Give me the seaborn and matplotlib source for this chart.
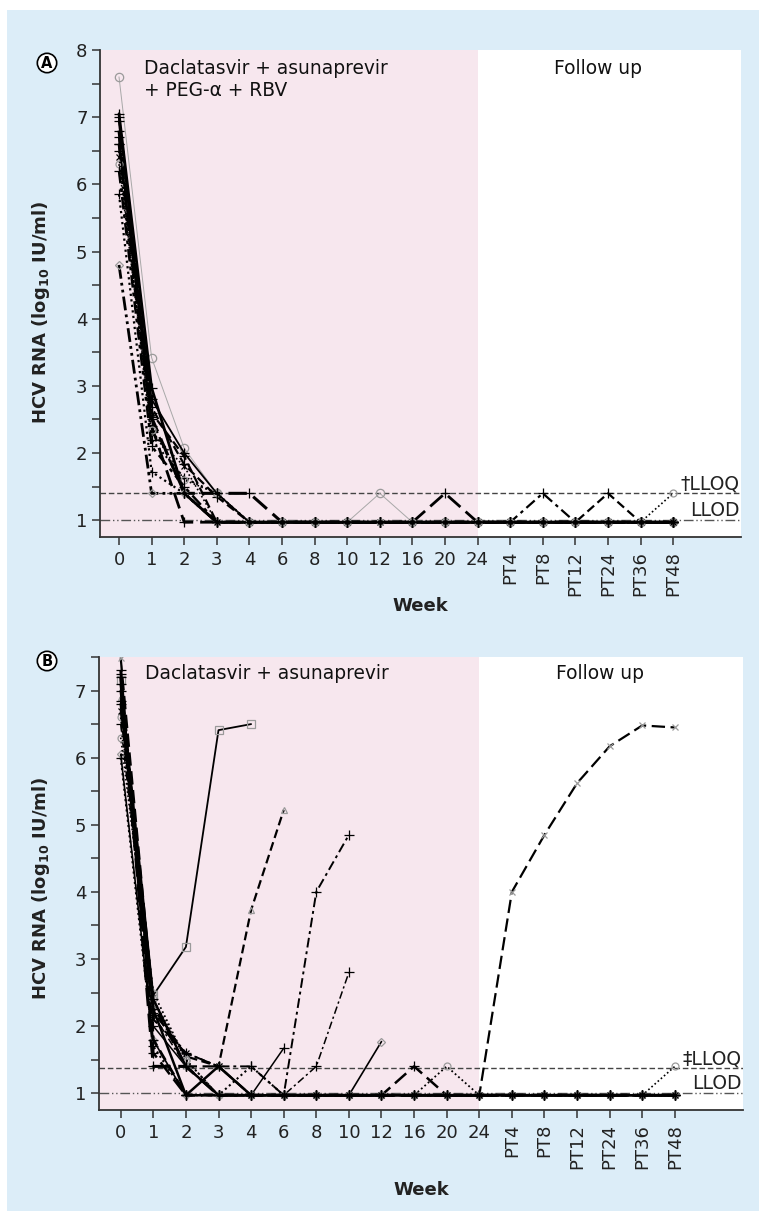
import numpy as np
import matplotlib
matplotlib.use("Agg")
import matplotlib.pyplot as plt
import matplotlib.transforms as mtransforms
from matplotlib.patches import Rectangle
import seaborn as sns

# ---------------- data ----------------
weeks = ['0', '1', '2', '3', '4', '6', '8', '10', '12', '16', '20', '24',
         'PT4', 'PT8', 'PT12', 'PT24', 'PT36', 'PT48']
lloq_a = 1.40
lloq_b = 1.38
llod = 1.0

# Panel A: daclatasvir + asunaprevir + PEG-alfa + RBV (log10 IU/ml per visit)
a01 = [7.6, 3.42, 2.07, 1.4, 0.97, 0.97, 0.97, 0.97, 1.4, 0.97, 0.97, 0.97, 0.97, 0.97, 0.97, 0.97, 0.97, 0.97]
a02 = [7.05, 2.97, 1.4, 0.97, 0.97, 0.97, 0.97, 0.97, 0.97, 0.97, 0.97, 0.97, 0.97, 0.97, 0.97, 0.97, 0.97, 0.97]
a03 = [6.95, 2.68, 1.83, 1.35, 0.97, 0.97, 0.97, 0.97, 0.97, 0.97, 0.97, 0.97, 0.97, 0.97, 0.97, 0.97, 0.97, 0.97]
a04 = [6.8, 2.53, 1.4, 1.4, 1.4, 0.97, 0.97, 0.97, 0.97, 0.97, 0.97, 0.97, 0.97, 0.97, 0.97, 0.97, 0.97, 0.97]
a05 = [6.6, 2.4, 0.97, 0.97, 0.97, 0.97, 0.97, 0.97, 0.97, 0.97, 1.4, 0.97, 0.97, 0.97, 0.97, 0.97, 0.97, 0.97]
a06 = [4.8, 1.4, 1.4, 0.97, 0.97, 0.97, 0.97, 0.97, 0.97, 0.97, 0.97, 0.97, 0.97, 0.97, 0.97, 0.97, 0.97, 0.97]
a07 = [5.85, 1.72, 1.4, 0.97, 0.97, 0.97, 0.97, 0.97, 0.97, 0.97, 0.97, 0.97, 0.97, 0.97, 0.97, 0.97, 0.97, 0.97]
a08 = [6.5, 2.2, 1.63, 1.4, 0.97, 0.97, 0.97, 0.97, 0.97, 0.97, 0.97, 0.97, 0.97, 0.97, 0.97, 0.97, 0.97, 0.97]
a09 = [6.4, 2.3, 1.8, 0.97, 0.97, 0.97, 0.97, 0.97, 0.97, 0.97, 0.97, 0.97, 0.97, 0.97, 0.97, 0.97, 0.97, 0.97]
a10 = [6.7, 2.5, 1.4, 0.97, 0.97, 0.97, 0.97, 0.97, 0.97, 0.97, 0.97, 0.97, 0.97, 1.4, 0.97, 0.97, 0.97, 0.97]
a11 = [7.0, 2.6, 1.95, 0.97, 0.97, 0.97, 0.97, 0.97, 0.97, 0.97, 0.97, 0.97, 0.97, 0.97, 0.97, 1.4, 0.97, 0.97]
a12 = [6.3, 2.35, 1.6, 1.4, 0.97, 0.97, 0.97, 0.97, 0.97, 0.97, 0.97, 0.97, 0.97, 0.97, 0.97, 0.97, 0.97, 1.4]
a13 = [6.6, 2.8, 2.0, 1.4, 0.97, 0.97, 0.97, 0.97, 0.97, 0.97, 0.97, 0.97, 0.97, 0.97, 0.97, 0.97, 0.97, 0.97]
a14 = [6.2, 2.1, 1.5, 0.97, 0.97, 0.97, 0.97, 0.97, 0.97, 0.97, 0.97, 0.97, 0.97, 0.97, 0.97, 0.97, 0.97, 0.97]

# Panel B: daclatasvir + asunaprevir
b01 = [7.15, 2.46, 3.18, 6.41, 6.5]
b02 = [6.9, 2.3, 1.55, 1.4, 3.73, 5.22]
b03 = [7.25, 2.2, 1.6, 1.4, 1.4, 0.97, 4.0, 4.85]
b04 = [6.85, 2.0, 1.4, 0.97, 0.97, 1.67]
b05 = [6.5, 2.17, 1.4, 0.97, 0.97, 0.97, 1.4, 2.8]
b06 = [6.05, 1.79, 0.97, 0.97, 0.97, 0.97, 0.97, 0.97, 1.77]
b07 = [7.1, 1.6, 0.97, 0.97, 0.97, 0.97, 0.97, 0.97, 0.97, 1.4, 0.97, 0.97, 0.97, 0.97, 0.97, 0.97, 0.97, 0.97]
b08 = [6.6, 2.5, 1.5, 0.97, 0.97, 0.97, 0.97, 0.97, 0.97, 0.97, 1.4, 0.97, 0.97, 0.97, 0.97, 0.97, 0.97, 0.97]
b09 = [7.48, 2.3, 1.4, 1.4, 0.97, 0.97, 0.97, 0.97, 0.97, 0.97, 0.97, 0.97, 4.0, 4.85, 5.62, 6.17, 6.48, 6.45]
b10 = [6.3, 2.4, 1.5, 0.97, 0.97, 0.97, 0.97, 0.97, 0.97, 0.97, 0.97, 0.97, 0.97, 0.97, 0.97, 0.97, 0.97, 1.4]
b11 = [7.2, 1.4, 1.4, 0.97, 0.97, 0.97, 0.97, 0.97, 0.97, 0.97, 0.97, 0.97, 0.97, 0.97, 0.97, 0.97, 0.97, 0.97]
b12 = [6.8, 2.4, 1.4, 0.97, 0.97, 0.97, 0.97, 0.97, 0.97, 0.97, 0.97, 0.97, 0.97, 0.97, 0.97, 0.97, 0.97, 0.97]
b13 = [7.0, 2.25, 0.97, 1.4, 0.97, 0.97, 0.97, 0.97, 0.97, 0.97, 0.97, 0.97, 0.97, 0.97, 0.97, 0.97, 0.97, 0.97]
b14 = [7.3, 1.8, 0.97, 0.97, 0.97, 0.97, 0.97, 0.97, 0.97, 0.97, 0.97, 0.97, 0.97, 0.97, 0.97, 0.97, 0.97, 0.97]
b15 = [6.0, 1.7, 0.97, 0.97, 1.4, 0.97, 0.97, 0.97, 0.97, 0.97, 0.97, 0.97, 0.97, 0.97, 0.97, 0.97, 0.97, 0.97]
b16 = [6.7, 2.1, 1.6, 1.4, 0.97, 0.97, 0.97, 0.97, 0.97, 0.97, 0.97, 0.97, 0.97, 0.97, 0.97, 0.97, 0.97, 0.97]

# ---------------- styles ----------------
SOLID = '-'
DASH = (0, (4, 2))
LDASH = (0, (6, 2.5))
DDOT = (0, (5, 2, 1.5, 2))
DDDOT = (0, (5, 1.5, 1, 1.5, 1, 1.5))
DOT = (0, (1, 1.5))
GRAY = '#9a9a9a'
PLUS = 6.5

# (linestyle, linewidth, line colour, marker, marker edge colour, marker size)
styles_a = [
    (SOLID, 0.7, '#a8a8a8', 'o', GRAY, 6),
    (SOLID, 2.0, 'black', '+', 'black', PLUS),
    (DASH, 1.6, 'black', '+', 'black', PLUS),
    (LDASH, 2.2, 'black', '+', 'black', PLUS),
    (LDASH, 2.0, 'black', '+', 'black', PLUS),
    (DDDOT, 2.0, 'black', 'D', GRAY, 4),
    (DOT, 1.6, 'black', '+', 'black', PLUS),
    (DOT, 1.5, 'black', '+', 'black', PLUS),
    (DOT, 1.2, 'black', 'x', 'black', 5),
    (DDOT, 1.6, 'black', '+', 'black', PLUS),
    (DASH, 1.6, 'black', '+', 'black', PLUS),
    (DOT, 1.2, 'black', 'o', GRAY, 5),
    (SOLID, 1.3, 'black', '+', 'black', PLUS),
    (DDOT, 1.8, 'black', '+', 'black', PLUS),
]
series_a = [a01, a02, a03, a04, a05, a06, a07, a08, a09, a10, a11, a12, a13, a14]

styles_b = [
    (SOLID, 1.3, 'black', 's', GRAY, 6),
    (DASH, 1.6, 'black', '^', GRAY, 5),
    (DDOT, 1.4, 'black', '+', 'black', PLUS),
    (SOLID, 1.1, 'black', '+', 'black', PLUS),
    (DDOT, 1.1, 'black', '+', 'black', PLUS),
    (SOLID, 1.2, 'black', 'D', GRAY, 4),
    (LDASH, 1.8, 'black', '+', 'black', PLUS),
    (DOT, 1.3, 'black', 'o', GRAY, 5),
    (LDASH, 1.6, 'black', 'x', GRAY, 5),
    (DOT, 1.2, 'black', 'o', GRAY, 5),
    (LDASH, 2.2, 'black', '+', 'black', PLUS),
    (SOLID, 1.8, 'black', '+', 'black', PLUS),
    (SOLID, 1.8, 'black', '+', 'black', PLUS),
    (DASH, 2.0, 'black', '+', 'black', PLUS),
    (DOT, 1.5, 'black', '+', 'black', PLUS),
    (DDOT, 1.4, 'black', 'x', 'black', 5),
]
series_b = [b01, b02, b03, b04, b05, b06, b07, b08, b09, b10, b11, b12, b13, b14, b15, b16]

BLUE = '#dcedf8'
PINK = '#f7e7ee'
SPINE = '#333333'

sns.set_style("ticks")
plt.rcParams['font.family'] = ['DejaVu Sans']
plt.rcParams['mathtext.fontset'] = 'dejavusans'

W, H = 759, 1211
fig = plt.figure(figsize=(W / 100, H / 100), dpi=100)
fig.patch.set_facecolor('white')
fig.patches.append(Rectangle((7 / W, 0), 1 - 7 / W, (H - 10) / H,
                             transform=fig.transFigure, facecolor=BLUE,
                             edgecolor='none', zorder=-10))


def px_axes(left, top, right, bottom):
    return fig.add_axes([left / W, (H - bottom) / H, (right - left) / W, (bottom - top) / H])


axA = px_axes(100, 50, 741, 537)
axB = px_axes(99, 657, 743, 1110)

panels = [
    dict(ax=axA, series=series_a, styles=styles_a, xlim=(-0.583, 19.08), ylim=(0.75, 8.0),
         yticks=np.arange(1, 8.01, 0.5), lloq=lloq_a, qlabel='\u2020LLOQ',
         title='Daclatasvir + asunaprevir\n+ PEG-\u03b1 + RBV', ttop=7.86,
         letter='A', ly=63, xlab_y=-0.123, ylab=(-0.075, 0.462)),
    dict(ax=axB, series=series_b, styles=styles_b, xlim=(-0.666, 19.09), ylim=(0.75, 7.5),
         yticks=np.arange(1, 7.51, 0.5), lloq=lloq_b, qlabel='\u2021LLOQ',
         title='Daclatasvir + asunaprevir', ttop=7.40,
         letter='B', ly=661, xlab_y=-0.157, ylab=(-0.073, 0.49)),
]

xpos = np.arange(len(weeks))

for p in panels:
    ax = p['ax']
    ax.set_facecolor('white')
    ax.axvspan(p['xlim'][0], 11, color=PINK, lw=0, zorder=0)
    ax.axhline(p['lloq'], color='#444444', lw=1.0, linestyle=(0, (4, 2)), zorder=1)
    ax.axhline(llod, color='#555555', lw=1.0, linestyle=(0, (7, 2, 1, 2, 1, 2)), zorder=1)

    for vals, (ls, lw, col, mk, mc, ms) in zip(p['series'], p['styles']):
        sns.lineplot(x=xpos[:len(vals)], y=vals, ax=ax, color=col, linestyle=ls,
                     linewidth=lw, marker=mk, markersize=ms, markeredgecolor=mc,
                     markerfacecolor='none', markeredgewidth=0.9,
                     errorbar=None, sort=False, zorder=3)

    ax.set_xlim(*p['xlim'])
    ax.set_ylim(*p['ylim'])
    ax.set_xticks(xpos)
    ax.set_xticklabels(weeks)
    for lab in ax.get_xticklabels():
        if lab.get_text().startswith('PT'):
            lab.set_rotation(90)
    ax.set_yticks(p['yticks'])
    ax.set_yticklabels([str(int(t)) if abs(t - round(t)) < 1e-9 else '' for t in p['yticks']])

    for side in ('top', 'right'):
        ax.spines[side].set_visible(False)
    for side in ('left', 'bottom'):
        ax.spines[side].set_color(SPINE)
        ax.spines[side].set_linewidth(1.3)
    ax.tick_params(axis='both', direction='out', length=6, width=1.1, color=SPINE,
                   labelsize=13, labelcolor='#222222')
    ax.tick_params(axis='x', pad=4)
    ax.tick_params(axis='y', pad=3)

    ax.set_xlabel('Week', fontsize=13, fontweight='bold', color='#222222')
    ax.xaxis.set_label_coords(0.5, p['xlab_y'])
    ax.set_ylabel(r'HCV RNA (log$_{\mathbf{10}}$ IU/ml)', fontsize=13,
                  fontweight='bold', color='#222222')
    ax.yaxis.set_label_coords(*p['ylab'])

    ax.text(0.76, p['ttop'], p['title'], ha='left', va='top', fontsize=13.4,
            color='#111111', zorder=5)
    ax.text(14.7, p['ttop'], 'Follow up', ha='center', va='top', fontsize=13.4,
            color='#111111', zorder=5)

    trans = mtransforms.blended_transform_factory(ax.transAxes, ax.transData)
    ax.text(0.998, p['lloq'] + 0.05, p['qlabel'], transform=trans, ha='right',
            va='baseline', fontsize=13.5, color='#222222', zorder=5)
    ax.text(0.998, llod + 0.06, 'LLOD', transform=trans, ha='right',
            va='baseline', fontsize=13.5, color='#222222', zorder=5)

    fig.text(47 / W, 1 - p['ly'] / H, p['letter'], ha='center', va='center',
             fontsize=10.5, fontweight='bold', color='black',
             bbox=dict(boxstyle='circle,pad=0.15', fc='white', ec='black', lw=1.2))

fig.savefig('out.png', dpi=100, facecolor=fig.get_facecolor())
